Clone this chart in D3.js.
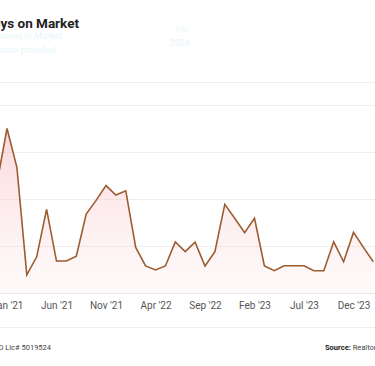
<!DOCTYPE html>
<html>
<head>
<meta charset="utf-8">
<script src="https://cdn.jsdelivr.net/npm/d3@7"></script>
<style>
  body { margin: 0; background: #fff; }
  svg { display: block; font-family: Roboto, 'Open Sans', sans-serif; }
</style>
</head>
<body>
<script>
// months are counted from Jan '21 (index 0); Dec '20 is -1
var monthIndex = [-1, 0, 1, 2, 3, 4, 5, 6, 7, 8, 9, 10, 11, 12, 13, 14, 15, 16, 17, 18, 19, 20, 21, 22, 23, 24, 25, 26, 27, 28, 29, 30, 31, 32, 33, 34, 35, 36, 37];
var daysOnMarket = [47, 70, 53.5, 7.7, 15.4, 35.6, 13.6, 13.6, 15.7, 33.6, 39.4, 45.7, 41.7, 43.5, 19.4, 11.5, 9.8, 11.5, 21.7, 17.6, 21.6, 11.5, 17.6, 37.7, 31.8, 25.7, 31.8, 11.5, 9.5, 11.6, 11.6, 11.6, 9.5, 9.5, 21.8, 13.3, 25.8, 19.4, 13.3];
var tickIndex = [0, 5, 10, 15, 20, 25, 30, 35];
var tickLabels = ["Jan '21", "Jun '21", "Nov '21", "Apr '22", "Sep '22", "Feb '23", "Jul '23", "Dec '23"];
var gridValues = [0, 20, 40, 60, 80];

var width = 375;
var height = 366;

var svg = d3.select('body').append('svg')
  .attr('width', width)
  .attr('height', height);

var x = d3.scaleLinear().domain([0, 36]).range([7, 363.4]);
var y = d3.scaleLinear().domain([0, 80]).range([293, 105]);

var data = monthIndex.map(function(m, i) { return { m: m, v: daysOnMarket[i] }; });

// header
svg.append('text')
  .attr('x', 79)
  .attr('y', 28)
  .attr('text-anchor', 'end')
  .style('font-size', '13.5px')
  .style('font-weight', 'bold')
  .style('fill', '#222')
  .text('Median Days on Market');

svg.append('text')
  .attr('x', 62)
  .attr('y', 39)
  .attr('text-anchor', 'end')
  .style('font-size', '9px')
  .style('fill', '#e6f7f8')
  .text('Single Family Homes in Market');

svg.append('text')
  .attr('x', 55)
  .attr('y', 53)
  .attr('text-anchor', 'end')
  .style('font-size', '9px')
  .style('fill', '#e6f7f8')
  .text('Information provided');

svg.append('text')
  .attr('x', 182)
  .attr('y', 32)
  .attr('text-anchor', 'middle')
  .style('font-size', '8px')
  .style('fill', '#eef7f8')
  .text('Feb');

svg.append('text')
  .attr('x', 180)
  .attr('y', 46)
  .attr('text-anchor', 'middle')
  .style('font-size', '9px')
  .style('fill', '#e8f4f6')
  .text('2024');

svg.append('line')
  .attr('x1', 0).attr('x2', width)
  .attr('y1', 82.5).attr('y2', 82.5)
  .style('stroke', '#efefef');

// grid
svg.append('g').selectAll('line')
  .data(gridValues)
  .enter().append('line')
  .attr('x1', 0)
  .attr('x2', width)
  .attr('y1', function(d) { return Math.round(y(d)) + 0.5; })
  .attr('y2', function(d) { return Math.round(y(d)) + 0.5; })
  .style('stroke', function(d) { return d === 0 ? '#e6e6e6' : '#efefef'; });

var defs = svg.append('defs');
var grad = defs.append('linearGradient')
  .attr('id', 'fillGrad')
  .attr('x1', 0).attr('y1', 0)
  .attr('x2', 0).attr('y2', 1);
grad.append('stop').attr('offset', '0%').style('stop-color', '#f7a8ad').style('stop-opacity', 0.45);
grad.append('stop').attr('offset', '100%').style('stop-color', '#fbd3d6').style('stop-opacity', 0.12);

var area = d3.area()
  .x(function(d) { return x(d.m); })
  .y0(y(0))
  .y1(function(d) { return y(d.v); });

var line = d3.line()
  .x(function(d) { return x(d.m); })
  .y(function(d) { return y(d.v); });

svg.append('path')
  .datum(data)
  .attr('d', area)
  .style('fill', 'url(#fillGrad)');

svg.append('path')
  .datum(data)
  .attr('d', line)
  .style('fill', 'none')
  .style('stroke', '#9c5c2f')
  .style('stroke-width', 1.6)
  .style('stroke-linejoin', 'miter');

// x axis labels
var xAxis = d3.axisBottom(x)
  .tickValues(tickIndex)
  .tickFormat(function(d, i) { return tickLabels[i]; })
  .tickSize(0)
  .tickPadding(9);

var axisG = svg.append('g')
  .attr('transform', 'translate(0,' + y(0) + ')')
  .call(xAxis);
axisG.select('.domain').remove();
axisG.selectAll('text')
  .style('font-family', 'Roboto, sans-serif')
  .style('font-size', '10px')
  .style('fill', '#555');

// footer
svg.append('line')
  .attr('x1', 0).attr('x2', width)
  .attr('y1', 327.5).attr('y2', 327.5)
  .style('stroke', '#efefef');

svg.append('text')
  .attr('x', 51)
  .attr('y', 350)
  .attr('text-anchor', 'end')
  .style('font-size', '7.5px')
  .style('fill', '#444')
  .text('MD Lic# 5019524');

var src = svg.append('text')
  .attr('x', 325)
  .attr('y', 350)
  .style('font-size', '7.5px')
  .style('fill', '#444');
src.append('tspan').style('font-weight', 'bold').style('fill', '#222').text('Source: ');
src.append('tspan').text('Realtors Property Resource');
</script>
</body>
</html>
